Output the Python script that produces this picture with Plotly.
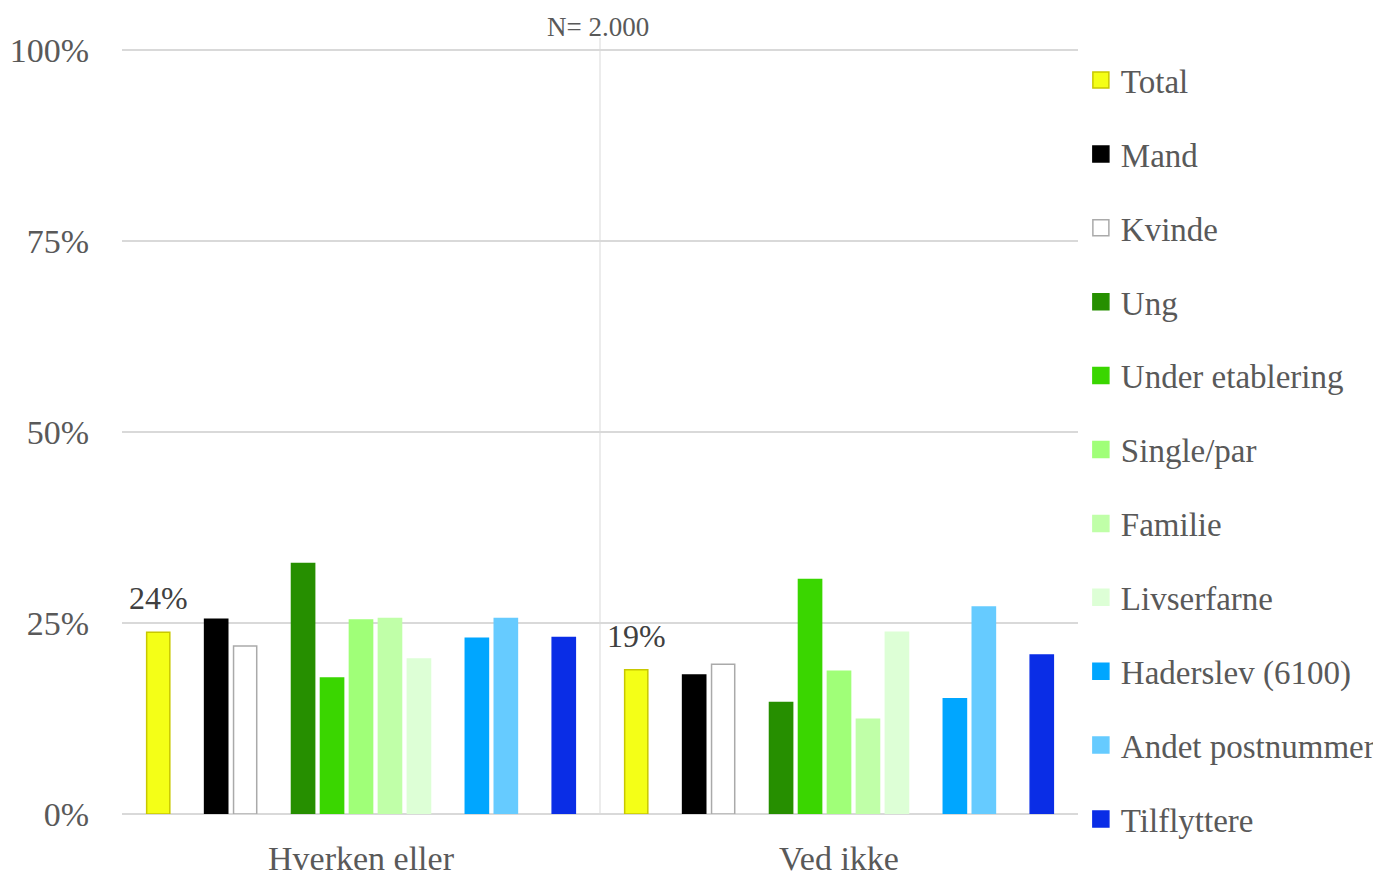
import plotly.graph_objects as go

categories = ["Hverken eller", "Ved ikke"]
series_names = ["Total", "Mand", "Kvinde", "Ung", "Under etablering", "Single/par",
                "Familie", "Livserfarne", "Haderslev (6100)", "Andet postnummer", "Tilflyttere"]
total = [23.8, 18.9]
mand = [25.5, 18.2]
kvinde = [22.0, 19.6]
ung = [32.8, 14.6]
under_etablering = [17.8, 30.7]
single_par = [25.4, 18.7]
familie = [25.6, 12.4]
livserfarne = [20.3, 23.8]
haderslev = [23.0, 15.1]
andet_postnummer = [25.6, 27.1]
tilflyttere = [23.1, 20.8]
total_labels = ["24%", "19%"]
n_label = "N= 2.000"

values = [total, mand, kvinde, ung, under_etablering, single_par, familie,
          livserfarne, haderslev, andet_postnummer, tilflyttere]
fills = ["#F4FF17", "#000000", "#FFFFFF", "#268F00", "#3AD600", "#A0FF78",
         "#C0FFA8", "#DDFFD6", "#00A6FF", "#66CBFF", "#0A2DE6"]
borders = ["#C8C800", "#000000", "#AAAAAA", "#268F00", "#3AD600", "#A0FF78",
           "#C0FFA8", "#DDFFD6", "#00A6FF", "#66CBFF", "#0A2DE6"]
# spacer slots after these series indexes
spacer_after = {0, 2, 7, 9}

FONT = "Liberation Serif"
TXT = "#595959"
BARGAP = 0.091
n_slots = len(series_names) + len(spacer_after)

fig = go.Figure()
sp = 0
for i, (name, vals) in enumerate(zip(series_names, values)):
    fig.add_trace(go.Bar(
        x=categories, y=vals, name=name, legendgroup=name, showlegend=False,
        marker=dict(color=fills[i], line=dict(color=borders[i], width=1.5)),
        cliponaxis=False,
    ))
    # legend entry with a larger square swatch
    fig.add_trace(go.Scatter(
        x=[None], y=[None], mode="markers", name=name, legendgroup=name,
        marker=dict(symbol="square", size=16, color=fills[i],
                    line=dict(color=borders[i], width=1.5)),
        hoverinfo="skip",
    ))
    if i in spacer_after:
        fig.add_trace(go.Bar(x=categories, y=[None, None], name="sp%d" % sp,
                             legendgroup="sp%d" % sp,
                             showlegend=False, hoverinfo="skip"))
        sp += 1

# data labels above the Total bars (first slot of each category group)
slot_w = (1 - BARGAP) / n_slots
for ci, (lab, v) in enumerate(zip(total_labels, total)):
    fig.add_annotation(x=ci - (1 - BARGAP) / 2 + slot_w / 2, y=v, xref="x", yref="y",
                       text=lab, showarrow=False, yanchor="middle", yshift=34,
                       font=dict(family=FONT, size=32, color="#404040"))

fig.add_shape(type="line", xref="paper", yref="paper", x0=0.5, x1=0.5, y0=0, y1=1.0144,
              line=dict(color="#D9D9D9", width=1), layer="below")
fig.add_annotation(text=n_label, xref="paper", yref="paper", x=0.4979, y=1.029,
                   xanchor="center", yanchor="middle", showarrow=False,
                   font=dict(family=FONT, size=27, color=TXT))

fig.update_layout(
    width=1373, height=865,
    margin=dict(l=114, r=303, t=41, b=59, autoexpand=False),
    paper_bgcolor="white", plot_bgcolor="white",
    barmode="group", bargap=BARGAP, bargroupgap=0.2,
    font=dict(family=FONT, color=TXT),
    legend=dict(x=1.003, y=0.996, xanchor="left", yanchor="top",
                font=dict(family=FONT, size=33, color=TXT),
                tracegroupgap=28, itemwidth=30, traceorder="grouped",
                maxheight=1000),
    xaxis=dict(tickfont=dict(family=FONT, size=34, color=TXT), showline=False,
               ticks="", showgrid=False, automargin=False, ticklabelstandoff=21),
    yaxis=dict(range=[0, 100.15], tickvals=[0, 25, 50, 75, 100],
               ticktext=["0%", "25%", "50%", "75%", "100%"],
               tickfont=dict(family=FONT, size=34, color=TXT),
               gridcolor="#D9D9D9", gridwidth=1.5, zeroline=True,
               zerolinecolor="#D9D9D9", zerolinewidth=1.5,
               ticklabelstandoff=32, automargin=False),
)

fig.write_html("out.html")
